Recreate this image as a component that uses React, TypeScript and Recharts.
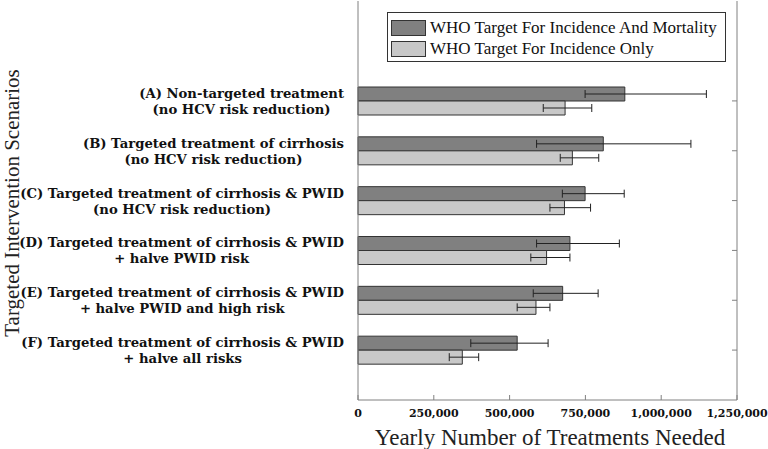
import { Bar, BarChart, ErrorBar, XAxis, YAxis } from "recharts";

const labelLine1 = [
  "(A) Non-targeted treatment",
  "(B) Targeted treatment of cirrhosis",
  "(C) Targeted treatment of cirrhosis & PWID",
  "(D) Targeted treatment of cirrhosis & PWID",
  "(E) Targeted treatment of cirrhosis & PWID",
  "(F) Targeted treatment of cirrhosis & PWID",
];
const labelLine2 = [
  "(no HCV risk reduction)",
  "(no HCV risk reduction)",
  "(no HCV risk reduction)",
  "+ halve PWID risk",
  "+ halve PWID and high risk",
  "+ halve all risks",
];

// WHO target for incidence and mortality
const bothValues = [880000, 809000, 749000, 699000, 675000, 525000];
const bothLow = [749000, 589000, 674000, 589000, 578000, 372000];
const bothHigh = [1149000, 1098000, 878000, 862000, 792000, 627000];

// WHO target for incidence only
const incValues = [683000, 707000, 681000, 622000, 587000, 344000];
const incLow = [611000, 667000, 633000, 570000, 525000, 301000];
const incHigh = [771000, 794000, 767000, 699000, 633000, 398000];

const xTicks = [0, 250000, 500000, 750000, 1000000, 1250000];

const rows = labelLine1.map((name, i) => ({
  name,
  both: bothValues[i],
  bothErr: [bothValues[i] - bothLow[i], bothHigh[i] - bothValues[i]],
  inc: incValues[i],
  incErr: [incValues[i] - incLow[i], incHigh[i] - incValues[i]],
}));

const DARK = "#808080";
const LIGHT = "#c8c8c8";
const LABEL_SIZE = 13.2;
const LABEL_FONT = `bold ${LABEL_SIZE}px 'DejaVu Serif'`;

let ctx: CanvasRenderingContext2D | null = null;
function textWidth(s: string) {
  if (!ctx) ctx = document.createElement("canvas").getContext("2d");
  if (!ctx) return s.length * 7.5;
  ctx.font = LABEL_FONT;
  return ctx.measureText(s).width;
}

function ScenarioTick(props: any) {
  const { x, y, payload } = props;
  const i = labelLine1.indexOf(payload.value);
  const l2 = labelLine2[i] ?? "";
  const w = Math.max(textWidth(payload.value), textWidth(l2));
  const cx = x - 6 - w / 2;
  const common = { textAnchor: "middle" as const, fontFamily: "DejaVu Serif", fontWeight: "bold", fontSize: LABEL_SIZE, fill: "#111" };
  return (
    <g>
      <text x={cx} y={y - 3} {...common}>{payload.value}</text>
      <text x={cx} y={y + 13} {...common}>{l2}</text>
    </g>
  );
}

function LegendBox() {
  const items = [
    { color: DARK, text: "WHO Target For Incidence And Mortality" },
    { color: LIGHT, text: "WHO Target For Incidence Only" },
  ];
  return (
    <div
      style={{
        position: "absolute",
        left: 387,
        top: 12,
        width: 331,
        border: "1px solid #333",
        background: "#fff",
        padding: "4px 3px 2px 3px",
      }}
    >
      {items.map((it) => (
        <div key={it.text} style={{ display: "flex", alignItems: "center", height: 21 }}>
          <span style={{ width: 33, height: 14, background: it.color, border: "1px solid #333", marginRight: 4 }} />
          <span style={{ fontFamily: "'Liberation Serif'", fontSize: 17, color: "#111", lineHeight: "21px" }}>{it.text}</span>
        </div>
      ))}
    </div>
  );
}

export default function App() {
  const axisGray = "#808080";
  return (
    <div style={{ position: "absolute", left: 0, top: 0, width: 768, height: 449, background: "#fff" }}>
      <BarChart
        width={768}
        height={449}
        data={rows}
        layout="vertical"
        margin={{ top: 1, right: 0, bottom: 0, left: 0 }}
        barSize={14}
        barGap={0}
      >
        <XAxis
          xAxisId="bottom"
          type="number"
          domain={[0, 1250000]}
          ticks={xTicks}
          height={49}
          tickSize={-5}
          tickMargin={14}
          stroke={axisGray}
          tick={{ fill: "#111", fontFamily: "DejaVu Serif", fontWeight: "bold", fontSize: 11 }}
          tickFormatter={(v: number) => v.toLocaleString("en-US")}
        />
        <XAxis
          xAxisId="top"
          orientation="top"
          type="number"
          domain={[0, 1250000]}
          ticks={xTicks}
          height={0}
          tickSize={-5}
          stroke={axisGray}
          tickFormatter={() => ""}
        />
        <YAxis
          yAxisId="left"
          type="category"
          dataKey="name"
          width={358}
          padding={{ top: 75, bottom: 25 }}
          tickLine={false}
          stroke={axisGray}
          tick={<ScenarioTick />}
          interval={0}
        />
        <YAxis
          yAxisId="right"
          orientation="right"
          type="category"
          dataKey="name"
          width={31}
          padding={{ top: 75, bottom: 25 }}
          tickSize={-5}
          stroke={axisGray}
          interval={0}
          tickFormatter={() => ""}
        />
        <Bar xAxisId="bottom" yAxisId="left" dataKey="both" fill={DARK} stroke="#333" strokeWidth={1} isAnimationActive={false}>
          <ErrorBar dataKey="bothErr" direction="x" width={4} stroke="#222" strokeWidth={1} isAnimationActive={false} />
        </Bar>
        <Bar xAxisId="bottom" yAxisId="left" dataKey="inc" fill={LIGHT} stroke="#333" strokeWidth={1} isAnimationActive={false}>
          <ErrorBar dataKey="incErr" direction="x" width={4} stroke="#222" strokeWidth={1} isAnimationActive={false} />
        </Bar>
      </BarChart>
      <svg width={768} height={449} style={{ position: "absolute", left: 0, top: 0, pointerEvents: "none" }}>
        <text x={550} y={445} textAnchor="middle" fontFamily="Liberation Serif" fontSize={23} fill="#222">
          Yearly Number of Treatments Needed
        </text>
        <text x={19} y={203} transform="rotate(-90 19 203)" textAnchor="middle" fontFamily="Liberation Serif" fontSize={21} fill="#222">
          Targeted Intervention Scenarios
        </text>
      </svg>
      <LegendBox />
    </div>
  );
}
